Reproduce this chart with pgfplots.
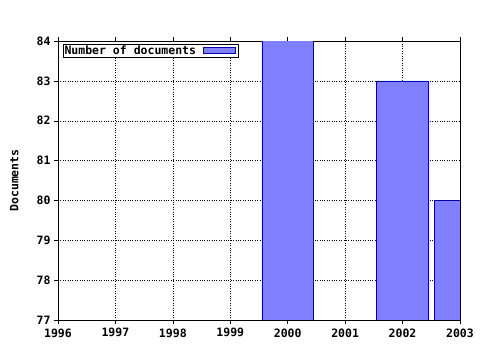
\documentclass[border=0pt]{standalone}
\usepackage{fontspec}
\setmainfont{DejaVu Sans Mono}
\usepackage{pgfplots}
\pgfplotsset{compat=1.18}
\definecolor{barfill}{RGB}{128,128,255}
\definecolor{barline}{RGB}{0,0,170}
\begin{document}
\begin{tikzpicture}[x=1pt,y=1pt]
\path[use as bounding box] (-58,-30) rectangle (422,320);
\begin{axis}[
  at={(0,0)}, anchor=south west,
  scale only axis, width=402pt, height=279pt,
  xmin=1996, xmax=2003, ymin=77, ymax=84,
  xtick={1996,...,2003}, ytick={77,...,84},
  minor x tick num=3,
  ytick pos=left,
  xticklabel style={/pgf/number format/1000 sep={}},
  /pgf/number format/assume math mode=true,
  tick label style={font=\bfseries\fontsize{11.5}{12}\selectfont},
  xticklabel style={yshift=-1pt},
  tick align=outside,
  major tick length=4pt, minor tick length=-3pt,
  tick style={black, thin},
  grid=major,
  major grid style={black, dotted, thin},
  axis line style={black, thin},
  ylabel={\bfseries Documents},
  ylabel style={font=\fontsize{11.5}{12}\selectfont, at={(axis description cs:-0.109,0.5)}, anchor=center},
  legend style={at={(rel axis cs:0.0125,0.989)}, anchor=north west, draw=black, thin,
    font=\bfseries\fontsize{11.5}{11}\selectfont, inner sep=0pt, outer sep=0pt,
    row sep=0pt, nodes={inner sep=1.5pt}},
  legend plot pos=right,
  legend image code/.code={\path (0pt,0pt) (40pt,0pt); \draw[fill=barfill, draw=barline, semithick] (5pt,-3pt) rectangle (37pt,3.5pt);},
  clip=true,
]
\addplot[ybar, bar width=0.9, fill=barfill, draw=barline, semithick, bar shift=0pt]
  coordinates {(2000,84.5) (2002,83) (2003,80)};
\addlegendentry{Number of documents}
\end{axis}
\end{tikzpicture}
\end{document}
